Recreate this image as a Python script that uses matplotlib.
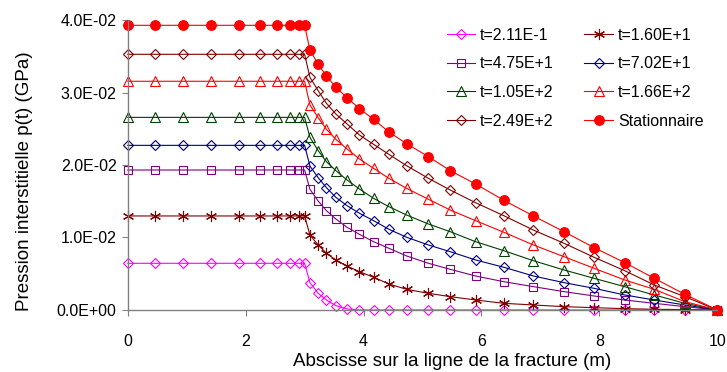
import numpy as np
import matplotlib.pyplot as plt

plt.rcParams['font.family'] = ['Liberation Sans', 'DejaVu Sans']

# abscisses des noeuds (m)
x = [0, 0.47, 0.94, 1.41, 1.88, 2.25, 2.53, 2.75, 2.9, 3.0,
     3.09, 3.23, 3.37, 3.53, 3.72, 3.93, 4.17, 4.43, 4.73,
     5.10, 5.47, 5.90, 6.38, 6.88, 7.40, 7.91, 8.43, 8.93, 9.45, 10.0]

p_t0 = [0.00644] * 10 + [0.00377, 0.0023, 0.00138, 0.0006, 0.00014, 0.0, 0.0, 0.0, 0.0,
                        0.0, 0.0, 0.0, 0.0, 0.0, 0.0, 0.0, 0.0, 0.0, 0.0, 0.0]
p_t1 = [0.01297] * 10 + [0.01034, 0.00897, 0.00782, 0.0069, 0.00607, 0.00529, 0.00451, 0.00359, 0.00285,
                        0.0023, 0.00184, 0.00138, 0.00092, 0.00069, 0.00046, 0.00032, 0.00018, 0.0001, 0.00005, 0.0]
p_t2 = [0.01931] * 10 + [0.01665, 0.01503, 0.0137, 0.01255, 0.0114, 0.01044, 0.00942, 0.00851, 0.00745,
                        0.00644, 0.00561, 0.00469, 0.0039, 0.00322, 0.00253, 0.00193, 0.00138, 0.00092, 0.00046, 0.0]
p_t3 = [0.02271] * 10 + [0.01986, 0.01825, 0.01687, 0.01554, 0.01439, 0.01334, 0.01232, 0.01113, 0.01003,
                        0.00897, 0.00804, 0.0069, 0.00589, 0.00469, 0.00377, 0.00299, 0.00207, 0.00138, 0.00069, 0.0]
p_t4 = [0.02657] * 10 + [0.02382, 0.02198, 0.02046, 0.01922, 0.01793, 0.01669, 0.0154, 0.01425, 0.0131,
                        0.01186, 0.0108, 0.00942, 0.00818, 0.0068, 0.00552, 0.00437, 0.00321, 0.00207, 0.00092, 0.0]
p_t5 = [0.03155] * 10 + [0.02828, 0.02653, 0.02492, 0.02354, 0.02221, 0.02083, 0.01954, 0.01816, 0.01678,
                        0.01527, 0.01379, 0.01232, 0.01072, 0.00897, 0.00735, 0.00575, 0.00414, 0.00285, 0.00115, 0.0]
p_t6 = [0.03527] * 10 + [0.0321, 0.03025, 0.02851, 0.02703, 0.02566, 0.02414, 0.02285, 0.02147, 0.0199,
                        0.01816, 0.01655, 0.0148, 0.013, 0.01103, 0.0092, 0.00727, 0.00542, 0.00345, 0.00184, 0.0]
p_stat = [0.03927] * 10 + [0.03586, 0.03389, 0.03228, 0.03071, 0.02929, 0.02777, 0.0263, 0.02455, 0.02294,
                          0.02115, 0.01922, 0.01738, 0.01513, 0.01297, 0.0108, 0.0086, 0.00653, 0.00437, 0.00216, 0.0]

labels = ['t=2.11E-1', 't=1.60E+1', 't=4.75E+1', 't=7.02E+1',
          't=1.05E+2', 't=1.66E+2', 't=2.49E+2', 'Stationnaire']
series = [p_t0, p_t1, p_t2, p_t3, p_t4, p_t5, p_t6, p_stat]

styles = [
    dict(color='#FF00FF', marker='D', ms=5.2, mfc='none'),
    dict(color='#800000', marker=(6, 2, 0), ms=8, mfc='none'),
    dict(color='#800080', marker='s', ms=6, mfc='none'),
    dict(color='#000080', marker='D', ms=5.2, mfc='none'),
    dict(color='#004000', marker='^', ms=7.5, mfc='none'),
    dict(color='#FF0000', marker='^', ms=7.5, mfc='none'),
    dict(color='#800000', marker='D', ms=5.2, mfc='none'),
    dict(color='#FF0000', marker='o', ms=7, mfc='#FF0000'),
]

fig = plt.figure(figsize=(7.27, 3.72), dpi=100)
ax = fig.add_axes([0.1757, 0.1667, 0.811, 0.7795])

handles = []
for y, lab, st in zip(series, labels, styles):
    h, = ax.plot(x, y, lw=0.8, mew=0.8, label=lab, clip_on=False, **st)
    handles.append(h)

ax.set_xlim(0, 10)
ax.set_ylim(0, 0.04)
ax.set_xticks([0, 2, 4, 6, 8, 10])
ax.set_yticks([0, 0.01, 0.02, 0.03, 0.04])
ax.set_yticklabels(['0.0E+00', '1.0E-02', '2.0E-02', '3.0E-02', '4.0E-02'])
ax.tick_params(labelsize=11.5, direction='out', length=4, width=0.8, color='#808080', pad=4)
ax.tick_params(axis='x', pad=13)

for s in ['top', 'right']:
    ax.spines[s].set_visible(False)
for s in ['left', 'bottom']:
    ax.spines[s].set_color('#808080')
    ax.spines[s].set_linewidth(1)

ax.set_xlabel('Abscisse sur la ligne de la fracture (m)', fontsize=13.5)
ax.xaxis.set_label_coords(0.55, -0.148, transform=ax.transAxes)
ax.xaxis.label.set_va('top')
ax.set_ylabel('Pression interstitielle p(t) (GPa)', fontsize=13.5)
ax.yaxis.set_label_coords(-0.16, 0.445)

# ordre ligne par ligne comme dans la figure d'origine
order = [0, 2, 4, 6, 1, 3, 5, 7]
ax.legend([handles[i] for i in order], [labels[i] for i in order],
          ncol=2, frameon=False, fontsize=11.5, loc='upper left',
          bbox_to_anchor=(0.53, 0.995), handlelength=1.8, handletextpad=0.3,
          columnspacing=1.9, labelspacing=0.85, borderaxespad=0)

fig.savefig('out.png', dpi=100)
